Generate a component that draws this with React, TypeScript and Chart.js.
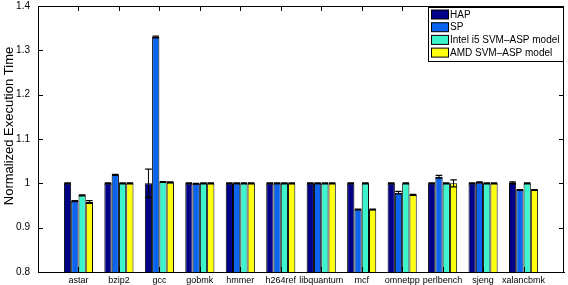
import React, { useEffect, useRef } from "react";
import { Chart, registerables } from "chart.js";

Chart.register(...registerables);

const categories = ["astar", "bzip2", "gcc", "gobmk", "hmmer", "h264ref", "libquantum", "mcf", "omnetpp", "perlbench", "sjeng", "xalancbmk"];
const seriesNames = ["HAP", "SP", "Intel i5 SVM\u2013ASP model", "AMD SVM\u2013ASP model"];
const seriesColors = ["#000088", "#0a64f0", "#3cf5cd", "#ffff10"];

const hap = [1.0, 1.0, 1.0, 1.0, 1.0, 1.0, 1.0, 1.0, 1.0, 1.0, 1.0, 1.001];
const sp = [0.96, 1.019, 1.33, 0.999, 1.0, 1.0, 1.0, 0.941, 0.979, 1.015, 1.002, 0.985];
const intel = [0.973, 1.0, 1.003, 1.0, 1.0, 1.0, 1.0, 1.0, 1.0, 1.0, 1.0, 1.0];
const amd = [0.958, 1.0, 1.002, 1.0, 1.0, 1.0, 1.0, 0.941, 0.974, 1.0, 1.0, 0.985];

const hapErr = [0.001, 0.001, 0.032, 0.001, 0.001, 0.001, 0.001, 0.001, 0.001, 0.001, 0.001, 0.002];
const spErr = [0.001, 0.001, 0.002, 0.001, 0.001, 0.001, 0.001, 0.001, 0.003, 0.003, 0.001, 0.001];
const intelErr = [0.001, 0.001, 0.001, 0.001, 0.001, 0.001, 0.001, 0.001, 0.001, 0.001, 0.001, 0.001];
const amdErr = [0.003, 0.001, 0.001, 0.001, 0.001, 0.001, 0.001, 0.001, 0.001, 0.008, 0.001, 0.001];

const yMin = 0.8;
const yMax = 1.4;
const yStep = 0.1;
const yTitle = "Normalized Execution Time";

const FONT = "'Liberation Sans', Arial, Helvetica, sans-serif";

export default function App() {
  const ref = useRef<HTMLCanvasElement>(null);

  useEffect(() => {
    document.body.style.margin = "0";
    const values = [hap, sp, intel, amd];
    const errors = [hapErr, spErr, intelErr, amdErr];
    const labels = ["", ...categories, ""];

    const custom = {
      id: "custom",
      afterDatasetsDraw(chart: any) {
        const ctx = chart.ctx;
        const ys = chart.scales.y;
        ctx.save();
        ctx.strokeStyle = "#000";
        values.forEach((vals, d) => {
          const meta = chart.getDatasetMeta(d);
          vals.forEach((v, j) => {
            const el = meta.data[j + 1];
            if (!el) return;
            const e = errors[d][j];
            const x = el.x;
            const w = el.width * 0.9;
            const yt = ys.getPixelForValue(v + e);
            const yb = ys.getPixelForValue(v - e);
            ctx.lineWidth = 1;
            ctx.beginPath();
            ctx.moveTo(x, yt);
            ctx.lineTo(x, yb);
            ctx.stroke();
            ctx.lineWidth = 1.3;
            ctx.beginPath();
            ctx.moveTo(x - w / 2, yt);
            ctx.lineTo(x + w / 2, yt);
            ctx.moveTo(x - w / 2, yb);
            ctx.lineTo(x + w / 2, yb);
            ctx.stroke();
          });
        });
        ctx.restore();
      },
      afterDraw(chart: any) {
        const ctx = chart.ctx;
        const ca = chart.chartArea;
        const xs = chart.scales.x;
        const ys = chart.scales.y;
        ctx.save();
        ctx.strokeStyle = "#000";
        ctx.lineWidth = 1;
        ctx.beginPath();
        ctx.rect(Math.round(ca.left) + 0.5, Math.round(ca.top) + 0.5, Math.round(ca.right - ca.left) - 1, Math.round(ca.bottom - ca.top));
        ctx.stroke();
        ctx.beginPath();
        for (let i = 1; i <= categories.length; i++) {
          const x = Math.round(xs.getPixelForValue(i)) + 0.5;
          ctx.moveTo(x, ca.top);
          ctx.lineTo(x, ca.top + 5);
          ctx.moveTo(x, ca.bottom);
          ctx.lineTo(x, ca.bottom - 5);
        }
        for (let v = yMin; v <= yMax + 1e-9; v += yStep) {
          const y = Math.round(ys.getPixelForValue(v)) + 0.5;
          ctx.moveTo(ca.left, y);
          ctx.lineTo(ca.left + 5, y);
          ctx.moveTo(ca.right, y);
          ctx.lineTo(ca.right - 5, y);
        }
        ctx.stroke();
        ctx.fillStyle = "#000";
        ctx.font = `13px ${FONT}`;
        ctx.textAlign = "center";
        ctx.textBaseline = "middle";
        ctx.translate(9, 126);
        ctx.rotate(-Math.PI / 2);
        ctx.fillText(yTitle, 0, 0);
        ctx.restore();

        ctx.save();
        const bw = 135;
        const bh = 54;
        const bx = Math.round(ca.right) - 1 - bw;
        const by = Math.round(ca.top) + 1;
        ctx.fillStyle = "#fff";
        ctx.fillRect(bx, by, bw, bh);
        ctx.strokeStyle = "#000";
        ctx.lineWidth = 1;
        ctx.strokeRect(bx + 0.5, by + 0.5, bw, bh);
        ctx.font = `10px ${FONT}`;
        ctx.textAlign = "left";
        ctx.textBaseline = "middle";
        chart.data.datasets.forEach((ds: any, i: number) => {
          const cy = by + 7.5 + i * 12.7;
          ctx.fillStyle = ds.backgroundColor;
          ctx.fillRect(bx + 3, cy - 4.5, 17, 9);
          ctx.strokeStyle = "#000";
          ctx.strokeRect(bx + 3.5, cy - 4.5, 17, 9);
          ctx.fillStyle = "#000";
          ctx.fillText(ds.label, bx + 22, cy + 0.5);
        });
        ctx.restore();
      },
    };

    const chart = new Chart(ref.current!, {
      type: "bar",
      data: {
        labels,
        datasets: values.map((vals, i) => ({
          label: seriesNames[i],
          data: [null, ...vals, null],
          backgroundColor: seriesColors[i],
          borderColor: "#000",
          borderWidth: 1,
          borderSkipped: false,
          categoryPercentage: 0.72,
          barPercentage: 1.0,
        })),
      },
      options: {
        animation: false,
        responsive: true,
        maintainAspectRatio: false,
        layout: { padding: { left: 0, right: 4, top: 6, bottom: 0 } },
        plugins: {
          legend: { display: false },
          tooltip: { enabled: false },
        },
        scales: {
          x: {
            type: "category",
            offset: false,
            grid: { display: false, drawTicks: false },
            border: { display: true, color: "#000", width: 1 },
            ticks: {
              autoSkip: false,
              maxRotation: 0,
              minRotation: 0,
              padding: 3,
              color: "#000",
              font: { family: FONT, size: 9 },
            },
            afterFit(scale: any) {
              scale.height = 13;
              scale.paddingLeft = 0;
              scale.paddingRight = 0;
            },
          },
          y: {
            min: yMin,
            max: yMax,
            grid: { display: false, drawTicks: false },
            border: { display: true, color: "#000", width: 1 },
            ticks: {
              stepSize: yStep,
              padding: 8,
              color: "#000",
              font: { family: FONT, size: 10 },
              callback: (v: any) => String(Number(Number(v).toFixed(1))),
            },
            afterFit(scale: any) {
              scale.width = 38;
              scale.paddingTop = 0;
              scale.paddingBottom = 0;
            },
          },
        },
      },
      plugins: [custom],
    });
    return () => chart.destroy();
  }, []);

  return (
    <div style={{ width: 568, height: 285, position: "relative" }}>
      <canvas ref={ref} />
    </div>
  );
}
